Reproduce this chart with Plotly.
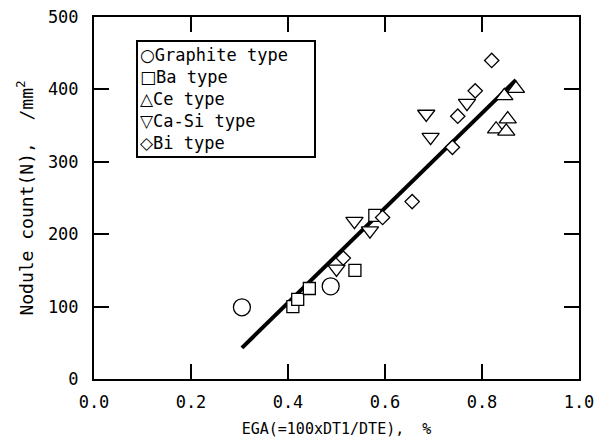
import plotly.graph_objects as go

graphite_x = [0.305, 0.488]
graphite_y = [99, 128]
ba_x = [0.410, 0.420, 0.444, 0.538, 0.579]
ba_y = [100, 110, 125, 150, 226]
ce_x = [0.870, 0.846, 0.853, 0.829, 0.850]
ce_y = [401, 391, 359, 345, 342]
casi_x = [0.685, 0.694, 0.769, 0.537, 0.569, 0.500]
casi_y = [366, 334, 381, 218, 205, 152]
bi_x = [0.820, 0.786, 0.750, 0.739, 0.656, 0.595, 0.514]
bi_y = [440, 398, 363, 320, 245, 223, 167]
fit_x = [0.305, 0.870]
fit_y = [43, 413]

series_names = ["Graphite type", "Ba type", "Ce type", "Ca-Si type", "Bi type"]
legend_glyphs = ["○", "□", "△", "▽", "◇"]

FONT = "DejaVu Sans Mono"
NB = "\u00a0"

fig = go.Figure()
fig.add_trace(go.Scatter(x=fit_x, y=fit_y, mode="lines",
                         line=dict(color="black", width=4), showlegend=False))

def add(x, y, name, symbol, size):
    fig.add_trace(go.Scatter(
        x=x, y=y, mode="markers", name=name, showlegend=False,
        marker=dict(symbol=symbol, size=size, color="white",
                    line=dict(color="black", width=1.3))))

add(graphite_x, graphite_y, series_names[0], "circle", 17)
add(ba_x, ba_y, series_names[1], "square", 12)
add(ce_x, ce_y, series_names[2], "triangle-up", 15)
add(casi_x, casi_y, series_names[3], "triangle-down", 15)
add(bi_x, bi_y, series_names[4], "diamond", 11)

axis_common = dict(showline=True, linecolor="black", linewidth=2,
                   mirror="allticks", ticks="inside", ticklen=15,
                   tickwidth=2, tickcolor="black", showgrid=False,
                   zeroline=False, automargin=False,
                   tickfont=dict(family=FONT, size=17, color="black"))

fig.update_xaxes(range=[0, 1.0], dtick=0.2, tickformat=".1f",
                 ticklabelstandoff=7,
                 title=dict(text="EGA(=100xDT1/DTE),  %" + NB * 4,
                            font=dict(family=FONT, size=15, color="black"),
                            standoff=12),
                 **axis_common)
fig.update_yaxes(range=[0, 500], dtick=100,
                 ticklabelstandoff=10,
                 title=dict(text="Nodule count(N),  /mm<sup>2</sup>" + NB * 2,
                            font=dict(family=FONT, size=18, color="black"),
                            standoff=10),
                 **axis_common)

glyph_style = "font-family:'DejaVu Sans'"
legend_text = "<br>".join(
    f"<span style=\"{glyph_style}\">{g}</span>{n}"
    for g, n in zip(legend_glyphs, series_names))
fig.add_annotation(
    xref="paper", yref="paper", x=0.0866, y=0.9365,
    xanchor="left", yanchor="top", showarrow=False,
    text=legend_text, align="left", valign="middle",
    width=172, height=110, borderpad=2,
    bordercolor="black", borderwidth=2, bgcolor="white",
    font=dict(family=FONT, size=17, color="black"))

fig.update_layout(
    width=606, height=442,
    margin=dict(l=94, r=27, t=17, b=63, autoexpand=False),
    paper_bgcolor="white", plot_bgcolor="white",
    showlegend=False,
)

fig.write_html("out.html")
